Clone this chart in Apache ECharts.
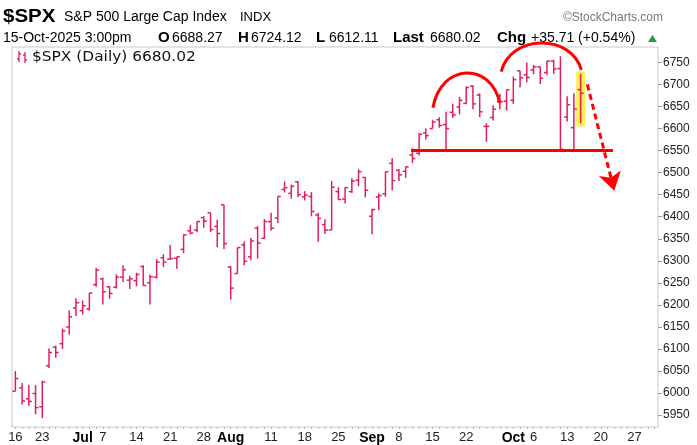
<!DOCTYPE html>
<html>
<head>
<meta charset="utf-8">
<script src="https://cdn.jsdelivr.net/npm/echarts@6/dist/echarts.min.js"></script>
<style>
  html, body { margin: 0; padding: 0; background: #fff; }
  #chart { width: 697px; height: 445px; }
</style>
</head>
<body>
<div id="chart"></div>
<script>
// trading days shown, then the empty days on the right
const dates = [
  '2025-06-16','2025-06-17','2025-06-18','2025-06-20','2025-06-23','2025-06-24','2025-06-25','2025-06-26','2025-06-27','2025-06-30',
  '2025-07-01','2025-07-02','2025-07-03','2025-07-07','2025-07-08','2025-07-09','2025-07-10','2025-07-11','2025-07-14','2025-07-15',
  '2025-07-16','2025-07-17','2025-07-18','2025-07-21','2025-07-22','2025-07-23','2025-07-24','2025-07-25','2025-07-28','2025-07-29',
  '2025-07-30','2025-07-31','2025-08-01','2025-08-04','2025-08-05','2025-08-06','2025-08-07','2025-08-08','2025-08-11','2025-08-12',
  '2025-08-13','2025-08-14','2025-08-15','2025-08-18','2025-08-19','2025-08-20','2025-08-21','2025-08-22','2025-08-25','2025-08-26',
  '2025-08-27','2025-08-28','2025-08-29','2025-09-02','2025-09-03','2025-09-04','2025-09-05','2025-09-08','2025-09-09','2025-09-10',
  '2025-09-11','2025-09-12','2025-09-15','2025-09-16','2025-09-17','2025-09-18','2025-09-19','2025-09-22','2025-09-23','2025-09-24',
  '2025-09-25','2025-09-26','2025-09-29','2025-09-30','2025-10-01','2025-10-02','2025-10-03','2025-10-06','2025-10-07','2025-10-08',
  '2025-10-09','2025-10-10','2025-10-13','2025-10-14','2025-10-15',
  '2025-10-16','2025-10-17','2025-10-20','2025-10-21','2025-10-22','2025-10-23','2025-10-24','2025-10-27','2025-10-28','2025-10-29',
  '2025-10-30'
]

const opens = [
  6004,6012,5987,5999,5969,6062,6104,6112,6150,6193,
  6187,6191,6246,6259,6241,6240,6263,6256,6255,6287,
  6250,6263,6307,6304,6306,6326,6368,6370,6398,6409,
  6378,6427,6286,6271,6336,6309,6374,6351,6389,6397,
  6462,6453,6479,6445,6446,6404,6382,6370,6457,6440,
  6457,6483,6489,6401,6445,6452,6521,6505,6503,6540,
  6544,6590,6600,6620,6609,6637,6649,6657,6696,6676,
  6605,6625,6661,6662,6664,6731,6722,6733,6740,6727,
  6753,6736,6626,6602,6688.27
]
const highs = [
  6050,6023,6018,6018,6028,6101,6108,6146,6187,6215,
  6210,6227,6284,6262,6243,6269,6290,6266,6273,6290,
  6269,6304,6315,6336,6310,6360,6381,6390,6401,6409,
  6393,6427,6288,6330,6344,6352,6379,6395,6409,6446,
  6480,6473,6481,6458,6456,6409,6394,6481,6467,6467,
  6487,6508,6490,6418,6453,6502,6533,6508,6514,6555,
  6590,6600,6619,6626,6638,6656,6672,6696,6698,6680,
  6612,6653,6679,6688,6718,6731,6750,6744,6740,6754,
  6756,6764,6673,6680,6724.12
]
const lows = [
  6004,5974,5971,5952,5943,6057,6080,6100,6132,6175,
  6178,6187,6241,6201,6214,6237,6252,6236,6242,6243,
  6201,6260,6286,6303,6282,6317,6360,6365,6375,6365,
  6331,6327,6212,6271,6290,6301,6305,6350,6368,6386,
  6455,6441,6445,6437,6401,6343,6361,6370,6438,6430,
  6454,6469,6444,6360,6415,6445,6460,6481,6488,6522,
  6539,6575,6600,6602,6551,6624,6632,6656,6644,6626,
  6570,6618,6644,6641,6656,6693,6705,6723,6701,6722,
  6724,6550,6616,6551,6612.11
]
const closes = [
  6033,5982,5981,5967,6025,6092,6092,6141,6173,6205,
  6198,6227,6279,6230,6226,6263,6280,6259,6269,6244,
  6264,6297,6297,6305,6309,6359,6363,6389,6390,6371,
  6362,6339,6238,6330,6299,6345,6340,6389,6374,6446,
  6466,6469,6450,6449,6412,6396,6370,6467,6439,6466,
  6481,6502,6460,6416,6448,6502,6482,6495,6513,6532,
  6587,6584,6615,6607,6600,6631,6664,6693,6656,6638,
  6605,6644,6661,6688,6711,6715,6716,6740,6714,6753,
  6735,6553,6654,6644,6680.02
]

const tickDates = ['2025-06-16','2025-06-23','2025-07-01','2025-07-07','2025-07-14','2025-07-21','2025-07-28','2025-08-01','2025-08-11','2025-08-18',
  '2025-08-25','2025-09-02','2025-09-08','2025-09-15','2025-09-22','2025-10-01','2025-10-06','2025-10-13','2025-10-20','2025-10-27']
const tickTexts = ['16','23','Jul','7','14','21','28','Aug','11','18','25','Sep','8','15','22','Oct','6','13','20','27']
const priceTicks = [5950,6000,6050,6100,6150,6200,6250,6300,6350,6400,6450,6500,6550,6600,6650,6700,6750]

// chart annotations, in (day index, price)
const arcs = [
  [62.05, 6647, 67.2, 6726, 71.96, 6658],
  [72.2, 6729, 78.35, 6794, 84.1, 6733]
]
const neckline = [[58.8, 6550], [88.8, 6550]]
const dropArrow = [[85.0, 6700], [89.0, 6459]]
const highlightBox = [[83.35, 6729], [84.65, 6605]]

const BAR_COLOR = '#e0205a'
const FONT = '"Liberation Sans", Arial, sans-serif'

const chart = echarts.init(document.getElementById('chart'))

const ohlcData = opens.map((o, i) => [i, o, highs[i], lows[i], closes[i]])
const tickIndex = tickDates.map(d => dates.indexOf(d))
const labelFor = {}
tickIndex.forEach((idx, k) => { labelFor[idx] = tickTexts[k] })

function renderOhlc(params, api) {
  const x = api.value(0)
  const o = api.coord([x, api.value(1)])
  const h = api.coord([x, api.value(2)])
  const l = api.coord([x, api.value(3)])
  const c = api.coord([x, api.value(4)])
  const style = { stroke: BAR_COLOR, lineWidth: 1.5 }
  return {
    type: 'group',
    children: [
      { type: 'line', shape: { x1: h[0], y1: h[1], x2: l[0], y2: l[1] }, style },
      { type: 'line', shape: { x1: o[0] - 3, y1: o[1], x2: o[0], y2: o[1] }, style },
      { type: 'line', shape: { x1: c[0], y1: c[1], x2: c[0] + 3, y2: c[1] }, style }
    ]
  }
}

function renderArc(params, api) {
  const p0 = api.coord([api.value(0), api.value(1)])
  const pk = api.coord([api.value(2), api.value(3)])
  const p3 = api.coord([api.value(4), api.value(5)])
  const w = p3[0] - p0[0]
  const cy = (8 * pk[1] - p0[1] - p3[1]) / 6
  return {
    type: 'bezierCurve',
    shape: {
      x1: p0[0], y1: p0[1], x2: p3[0], y2: p3[1],
      cpx1: p0[0] + w * 0.12, cpy1: cy,
      cpx2: p3[0] - w * 0.12, cpy2: cy
    },
    style: { stroke: '#ff0000', lineWidth: 3, fill: null }
  }
}

const headerText = (x, y, text, font, fill, sx) => ({
  type: 'text', x, y, silent: true, scaleX: sx || 1,
  style: { text, font, fill: fill || '#000', verticalAlign: 'middle' }
})

const option = {
  animation: false,
  grid: { left: 12, right: 39, top: 47, bottom: 15, show: true, borderColor: '#c8c8c8', borderWidth: 1 },
  xAxis: {
    type: 'value',
    min: -0.5,
    max: dates.length - 0.5,
    axisLine: { show: false, onZero: false },
    splitLine: { show: false },
    axisTick: { show: true, customValues: dates.map((d, i) => i), length: 2, lineStyle: { color: '#b8b8b8' } },
    axisLabel: {
      customValues: tickIndex,
      margin: 4,
      color: '#222',
      fontFamily: FONT,
      fontSize: 13,
      formatter: v => {
        const t = labelFor[Math.round(v)] || ''
        return /^[A-Z]/.test(t) ? '{m|' + t + '}' : t
      },
      rich: { m: { fontWeight: 'bold', fontSize: 14, color: '#000', fontFamily: FONT } }
    }
  },
  yAxis: {
    type: 'value',
    position: 'right',
    min: 5923,
    max: 6785,
    axisLine: { show: false, onZero: false },
    splitLine: { show: false },
    axisTick: { show: true, customValues: priceTicks, length: 4, lineStyle: { color: '#999' } },
    axisLabel: { customValues: priceTicks, margin: 5, color: '#222', fontFamily: FONT, fontSize: 12, formatter: v => String(v) }
  },
  series: [
    {
      type: 'line',
      data: [],
      z: 1,
      silent: true,
      markArea: {
        silent: true,
        itemStyle: { color: '#fbf24a' },
        data: [[{ coord: highlightBox[0] }, { coord: highlightBox[1] }]]
      }
    },
    {
      type: 'custom',
      z: 2,
      renderItem: renderOhlc,
      encode: { x: 0, y: [1, 2, 3, 4] },
      data: ohlcData
    },
    {
      type: 'custom',
      z: 3,
      clip: false,
      silent: true,
      renderItem: renderArc,
      encode: { x: [0, 2, 4], y: [1, 3, 5] },
      data: arcs,
      markLine: {
        silent: true,
        animation: false,
        label: { show: false },
        data: [
          [{ coord: neckline[0], symbol: 'none', lineStyle: { color: '#ff0000', width: 3, type: 'solid' } },
           { coord: neckline[1], symbol: 'none' }],
          [{ coord: dropArrow[0], symbol: 'none', lineStyle: { color: '#ff0000', width: 3, type: [6, 4], curveness: 0.04 } },
           { coord: dropArrow[1], symbol: 'arrow', symbolSize: [17, 18] }]
        ]
      }
    }
  ],
  graphic: [
    headerText(3, 17, '$SPX', 'bold 19px ' + FONT, '#000', 1.08),
    headerText(64, 17, 'S&P 500 Large Cap Index', '14px ' + FONT),
    headerText(240, 17, 'INDX', '13px ' + FONT),
    headerText(563, 17, '\u00A9StockCharts.com', '13px ' + FONT, '#777', 0.92),
    headerText(3, 38, '15-Oct-2025 3:00pm', '14px ' + FONT),
    headerText(158, 38, 'O', 'bold 15px ' + FONT),
    headerText(172, 38, '6688.27', '14px ' + FONT),
    headerText(238, 38, 'H', 'bold 15px ' + FONT),
    headerText(251, 38, '6724.12', '14px ' + FONT),
    headerText(316, 38, 'L', 'bold 15px ' + FONT),
    headerText(329, 38, '6612.11', '14px ' + FONT),
    headerText(393, 38, 'Last', 'bold 15px ' + FONT),
    headerText(430, 38, '6680.02', '14px ' + FONT),
    headerText(497, 38, 'Chg', 'bold 15px ' + FONT),
    headerText(531, 38, '+35.71 (+0.54%)', '14px ' + FONT),
    {
      type: 'polygon', silent: true,
      shape: { points: [[648, 42], [657, 42], [652.5, 35]] },
      style: { fill: '#2a9a3c' }
    },
    // legend icon: two tiny ohlc bars
    {
      type: 'group', silent: true,
      children: [
        { type: 'line', shape: { x1: 19, y1: 51, x2: 19, y2: 62 }, style: { stroke: BAR_COLOR, lineWidth: 1.3 } },
        { type: 'line', shape: { x1: 17, y1: 59, x2: 19, y2: 59 }, style: { stroke: BAR_COLOR, lineWidth: 1.3 } },
        { type: 'line', shape: { x1: 19, y1: 54, x2: 21, y2: 54 }, style: { stroke: BAR_COLOR, lineWidth: 1.3 } },
        { type: 'line', shape: { x1: 25, y1: 52, x2: 25, y2: 63 }, style: { stroke: BAR_COLOR, lineWidth: 1.3 } },
        { type: 'line', shape: { x1: 23, y1: 55, x2: 25, y2: 55 }, style: { stroke: BAR_COLOR, lineWidth: 1.3 } },
        { type: 'line', shape: { x1: 25, y1: 60, x2: 27, y2: 60 }, style: { stroke: BAR_COLOR, lineWidth: 1.3 } }
      ]
    },
    headerText(32, 57, '$SPX (Daily) 6680.02', '14px "DejaVu Sans", Verdana, sans-serif', '#111', 1.1)
  ]
}

chart.setOption(option)
window.addEventListener('resize', () => chart.resize())
</script>
</body>
</html>
